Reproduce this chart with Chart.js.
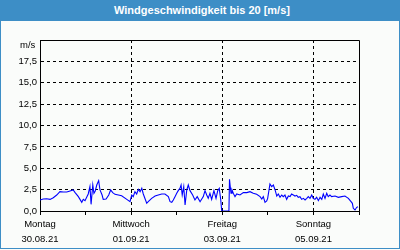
<!DOCTYPE html>
<html>
<head>
<meta charset="utf-8">
<script src="https://cdn.jsdelivr.net/npm/chart.js@4/dist/chart.umd.min.js"></script>
<style>
  html, body { margin: 0; padding: 0; }
  body { width: 400px; height: 250px; overflow: hidden; background: #fafcfa; position: relative; }
  #frame {
    position: absolute; left: 0; top: 0; width: 398px; height: 248px;
    border: 1px solid #3d8ec6; border-top: none;
  }
  #title {
    position: absolute; left: 0; top: 0; width: 400px; height: 21px;
    background: #3d8ec6; color: #fff;
    font: bold 11px "Liberation Sans", Arial, sans-serif;
    line-height: 20px; text-align: center; padding-left: 4px; box-sizing: border-box;
  }
  #unit {
    position: absolute; left: 20px; top: 39px;
    font: 9.5px "Liberation Sans", Arial, sans-serif; color: #000;
  }
  canvas { position: absolute; left: 0; top: 0; }
</style>
</head>
<body>
<div id="frame"></div>
<canvas id="chart" width="400" height="250"></canvas>
<div id="title">Windgeschwindigkeit bis 20 [m/s]</div>
<div id="unit">m/s</div>
<script>
// hours since Mo 30.08.21 00:00
const hours = [
  0, 1.7, 3.5, 5.3, 7.0, 8.8, 10.5, 12.3, 14.1, 15.8, 17.5, 18.4, 20.2, 22.0, 22.8, 23.7,
  25.4, 26.3, 26.9, 27.8, 28.4, 29.1, 29.9, 30.9, 31.6, 32.7, 33.3, 34.8, 36.2, 37.2, 38.3, 39.5,
  43.0, 45.7, 47.4, 48.3, 49.1, 50.0, 50.9, 51.8, 52.7, 53.6, 54.4, 56.2, 57.0, 58.8, 60.6, 62.3,
  64.1, 65.8, 67.6, 68.5, 69.4, 70.2, 71.1, 72.0, 72.8, 73.7, 74.3, 74.9, 75.7, 76.4, 77.3, 78.1,
  79.0, 80.4, 81.6, 82.8, 84.3, 86.0, 86.9, 87.8, 88.6, 89.5, 90.4, 91.6, 92.7, 93.6, 94.4, 95.2,
  95.7, 99.5, 99.8, 100.1, 100.6, 101.1, 101.8, 102.7, 103.6, 105.3, 107.1, 108.9, 110.6, 112.3, 114.1, 115.9,
  116.8, 117.6, 118.5, 119.4, 119.9, 120.6, 121.1, 122.0, 122.9, 123.8, 124.7, 125.5, 126.4, 127.3, 128.1, 129.0,
  129.9, 130.8, 131.7, 132.5, 133.4, 134.3, 135.2, 136.0, 136.9, 137.8, 138.7, 139.6, 140.5, 141.3, 142.2, 143.1,
  143.9, 144.8, 145.7, 146.6, 147.5, 148.4, 149.2, 150.1, 151.0, 151.8, 152.7, 153.6, 155.4, 157.1, 158.9, 160.6,
  162.4, 163.8, 164.5, 165.0, 165.9, 166.8, 167.5
];

// wind speed in m/s
const speed = [
  1.29, 1.40, 1.44, 1.36, 1.56, 1.87, 2.26, 2.22, 2.22, 2.34, 2.46, 2.18, 1.68, 1.01, 1.36, 1.21,
  1.99, 2.85, 0.78, 3.04, 2.07, 2.34, 3.04, 3.55, 2.46, 1.87, 1.36, 1.40, 1.87, 2.46, 2.15, 1.95,
  1.79, 1.36, 1.09, 1.87, 1.68, 2.26, 1.99, 2.53, 2.26, 2.65, 1.99, 0.90, 1.09, 1.48, 1.75, 1.87,
  1.99, 1.99, 1.68, 1.09, 1.01, 1.29, 1.68, 2.07, 2.38, 2.65, 3.04, 1.87, 2.85, 0.70, 2.46, 3.04,
  2.38, 1.87, 1.29, 1.68, 1.09, 1.68, 2.38, 1.87, 1.48, 2.07, 1.36, 2.38, 1.48, 2.38, 2.65, 1.29,
  0, 0, 3.70, 3.04, 2.07, 2.46, 2.07, 1.68, 1.99, 1.87, 2.15, 2.15, 2.26, 2.07, 1.95, 1.68,
  1.40, 1.68, 1.01, 1.17, 1.48, 2.46, 3.16, 2.85, 3.04, 2.46, 1.75, 1.99, 1.60, 1.87, 1.68, 1.87,
  1.36, 1.75, 1.68, 1.99, 1.87, 1.75, 1.83, 1.60, 1.68, 1.36, 1.48, 1.29, 1.48, 1.68, 1.48, 1.87,
  1.48, 1.36, 1.60, 1.21, 1.60, 1.36, 1.99, 1.48, 2.07, 1.68, 1.87, 1.68, 1.75, 1.60, 1.68, 1.75,
  1.48, 1.09, 0.90, 0.32, 0.12, 0.43, 0.51
];

// x tick labels, one per day (every second one is blank)
const tickDays  = ["Montag", "", "Mittwoch", "", "Freitag", "", "Sonntag", ""];
const tickDates = ["30.08.21", "", "01.09.21", "", "03.09.21", "", "05.09.21", ""];

const labelFont = { family: "'Liberation Sans', Arial, sans-serif", size: 9.5, lineHeight: 1.58 };

// top + right edges of the plot box
const boxPlugin = {
  id: "box",
  afterDraw(chart) {
    const a = chart.chartArea;
    const ctx = chart.ctx;
    ctx.save();
    ctx.strokeStyle = "#000";
    ctx.lineWidth = 1;
    ctx.beginPath();
    ctx.moveTo(a.left, a.top + 0.5);
    ctx.lineTo(a.right + 0.5, a.top + 0.5);
    ctx.lineTo(a.right + 0.5, a.bottom);
    ctx.stroke();
    ctx.restore();
  }
};

new Chart(document.getElementById("chart"), {
  type: "line",
  data: {
    datasets: [{
      data: hours.map((h, i) => ({ x: h, y: speed[i] })),
      borderColor: "#0000ff",
      borderWidth: 1.1,
      pointRadius: 0,
      tension: 0
    }]
  },
  options: {
    responsive: false,
    animation: false,
    layout: { padding: { top: 40, left: 0, right: 41, bottom: 0 } },
    plugins: { legend: { display: false }, tooltip: { enabled: false } },
    scales: {
      x: {
        type: "linear",
        min: 0,
        max: 168,
        afterFit: s => { s.height = 39; },
        ticks: {
          stepSize: 24,
          autoSkip: false,
          maxRotation: 0,
          padding: 2,
          color: "#000",
          font: labelFont,
          callback: (v, i) => tickDays[i] ? [tickDays[i], tickDates[i]] : ""
        },
        grid: {
          color: c => [48, 96, 144].includes(c.tick && c.tick.value) ? "#000" : "rgba(0,0,0,0)",
          tickColor: "#000",
          tickLength: 4,
          tickBorderDash: []
        },
        border: { color: "#000", width: 1, dash: [3, 3] }
      },
      y: {
        min: 0,
        max: 20,
        afterFit: s => { s.width = 40; },
        ticks: {
          stepSize: 2.5,
          padding: 3,
          color: "#000",
          font: labelFont,
          callback: v => v === 20 ? "" : v.toFixed(1).replace(".", ",")
        },
        grid: {
          color: c => (c.tick && (c.tick.value === 0 || c.tick.value === 20)) ? "rgba(0,0,0,0)" : "#000",
          drawTicks: false
        },
        border: { color: "#000", width: 1, dash: [3, 3] }
      }
    }
  },
  plugins: [boxPlugin]
});
</script>
</body>
</html>
